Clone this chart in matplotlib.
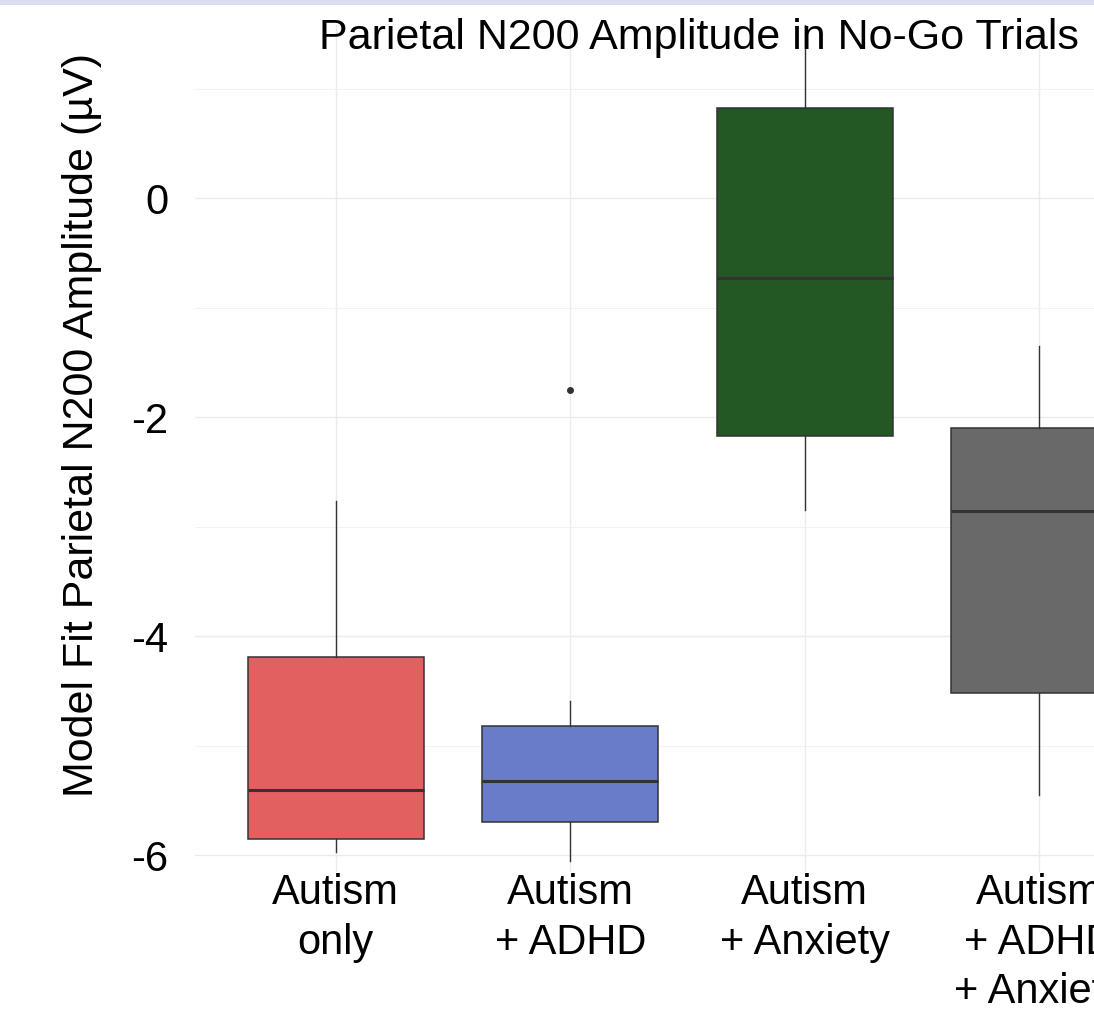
import matplotlib
matplotlib.use("Agg")
import matplotlib.pyplot as plt
from matplotlib.patches import Rectangle

plt.rcParams['font.family'] = ['Liberation Sans', 'DejaVu Sans']

# group labels and box summaries (µV)
groups = ["Autism\nonly", "Autism\n+ ADHD", "Autism\n+ Anxiety", "Autism\n+ ADHD\n+ Anxiety"]
whisker_low = [-5.97, -6.05, -2.85, -5.45]
q1 = [-5.85, -5.70, -2.17, -4.52]
medians = [-5.41, -5.32, -0.73, -2.86]
q3 = [-4.19, -4.82, 0.82, -2.10]
whisker_high = [-2.77, -4.59, 1.60, -1.35]
outliers = [[], [-1.75], [], []]
fills = ["#E36060", "#697CC9", "#235723", "#696969"]

fig = plt.figure(figsize=(10.94, 10.09), dpi=100)
fig.patches.append(Rectangle((0, 1 - 5 / 1009), 1, 5 / 1009, transform=fig.transFigure,
                             facecolor="#DADEF0", edgecolor="none", zorder=0))

ax = fig.add_axes([195 / 1094, 137 / 1009, 985 / 1094, 847 / 1009])

stats = []
for i in range(len(groups)):
    stats.append(dict(whislo=whisker_low[i], q1=q1[i], med=medians[i], q3=q3[i],
                      whishi=whisker_high[i], fliers=outliers[i]))

positions = list(range(1, len(groups) + 1))
bp = ax.bxp(stats, positions=positions, widths=0.75, patch_artist=True, showcaps=False,
            boxprops=dict(edgecolor="#333333", linewidth=1.1),
            medianprops=dict(color="#333333", linewidth=2.2),
            whiskerprops=dict(color="#333333", linewidth=1.0),
            flierprops=dict(marker="o", markersize=4, markerfacecolor="#333333",
                            markeredgecolor="#333333"))
for patch, c in zip(bp["boxes"], fills):
    patch.set_facecolor(c)
for item in bp["boxes"] + bp["medians"] + bp["whiskers"] + bp["fliers"]:
    item.set_zorder(3)

ax.set_xlim(0.4, 4.6)
ax.set_ylim(-6.155, 1.58)
ax.set_yticks([-6, -4, -2, 0])
ax.set_yticklabels(["-6", "-4", "-2", "0"])
ax.set_yticks([-5, -3, -1, 1], minor=True)
ax.set_xticks(positions)
ax.set_xticklabels(groups, linespacing=1.3)

ax.grid(True, which="major", color="#EBEBEB", linewidth=1.0, zorder=0)
ax.grid(True, which="minor", axis="y", color="#F2F2F2", linewidth=0.7, zorder=0)
ax.set_axisbelow(True)
for s in ax.spines.values():
    s.set_visible(False)
ax.tick_params(axis="both", which="both", length=0, labelsize=30)
ax.tick_params(axis="y", pad=19)
ax.tick_params(axis="x", pad=1)

ax.set_ylabel("Model Fit Parietal N200 Amplitude (µV)", fontsize=31)
ax.yaxis.label.set_va("center")
ax.yaxis.set_label_coords(-0.115, 0.528)

fig.text(699 / 1094, 1 - 49 / 1009, "Parietal N200 Amplitude in No-Go Trials",
         fontsize=31, ha="center", va="baseline")

fig.savefig("out.png", dpi=100)
